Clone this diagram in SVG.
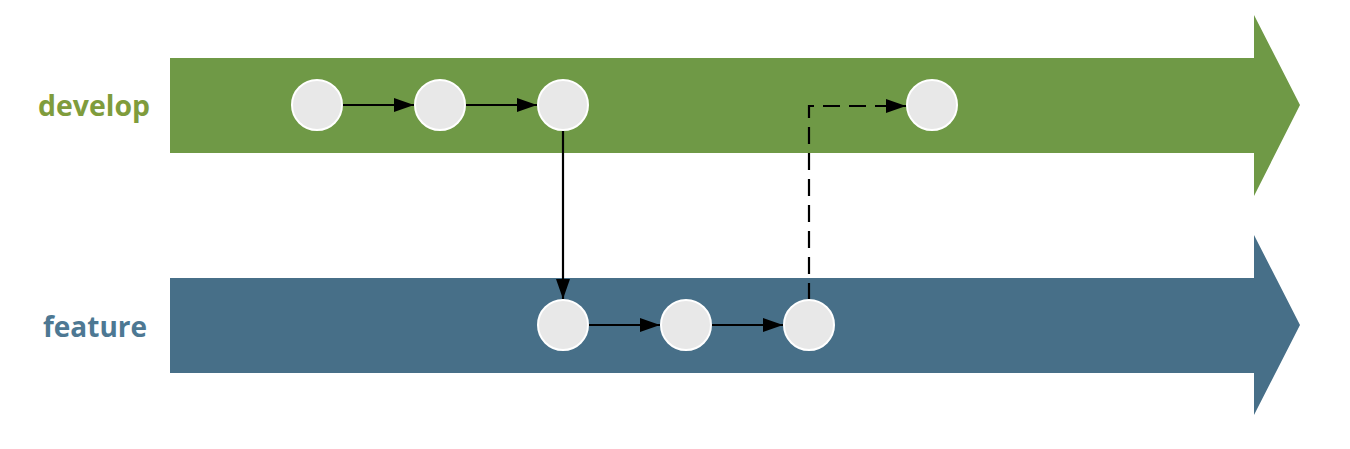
<svg xmlns="http://www.w3.org/2000/svg" width="1350" height="449" viewBox="0 0 1350 449">
  <style>
    .lbl { font-family: "Open Sans", "DejaVu Sans", sans-serif; font-weight: bold; font-size: 29px; }
    .commit { fill: #e8e8e8; stroke: #ffffff; stroke-width: 2; }
    .edge { fill: none; stroke: #000000; stroke-width: 2.2; }
    .dash { stroke-dasharray: 17 9; }
  </style>
  <defs>
    <marker id="ahb" viewBox="0 0 20 14" refX="20" refY="7" markerWidth="20" markerHeight="14" markerUnits="userSpaceOnUse" orient="auto">
      <path d="M0,0 L20,7 L0,14 Z" fill="#000000"/>
    </marker>
  </defs>
  <rect width="1350" height="449" fill="#ffffff"/>

  <g id="lane-develop">
    <polygon points="170,58 1254,58 1254,15 1300,105 1254,196 1254,153 170,153" fill="#6f9946"/>
    <text class="lbl" x="38" y="116" fill="#7f9c3c" textLength="112" lengthAdjust="spacingAndGlyphs">develop</text>
  </g>
  <g id="lane-feature">
    <polygon points="170,278 1254,278 1254,235 1300,325 1254,415 1254,373 170,373" fill="#476f88"/>
    <text class="lbl" x="43" y="337" fill="#4d7893" textLength="104" lengthAdjust="spacingAndGlyphs">feature</text>
  </g>

  <g id="connectors">
    <line class="edge" x1="342" y1="105" x2="414" y2="105" marker-end="url(#ahb)"/>
    <line class="edge" x1="465" y1="105" x2="537" y2="105" marker-end="url(#ahb)"/>
    <line class="edge" x1="563" y1="130" x2="563" y2="299" marker-end="url(#ahb)"/>
    <line class="edge" x1="588" y1="325" x2="660" y2="325" marker-end="url(#ahb)"/>
    <line class="edge" x1="711" y1="325" x2="783" y2="325" marker-end="url(#ahb)"/>
    <polyline class="edge dash" points="809,300 809,106 906,106" marker-end="url(#ahb)"/>
  </g>

  <g id="d1"><circle class="commit" cx="317" cy="105" r="25"/></g>
  <g id="d2"><circle class="commit" cx="440" cy="105" r="25"/></g>
  <g id="d3"><circle class="commit" cx="563" cy="105" r="25"/></g>
  <g id="d4"><circle class="commit" cx="932" cy="105" r="25"/></g>
  <g id="f1"><circle class="commit" cx="563" cy="325" r="25"/></g>
  <g id="f2"><circle class="commit" cx="686" cy="325" r="25"/></g>
  <g id="f3"><circle class="commit" cx="809" cy="325" r="25"/></g>
</svg>
